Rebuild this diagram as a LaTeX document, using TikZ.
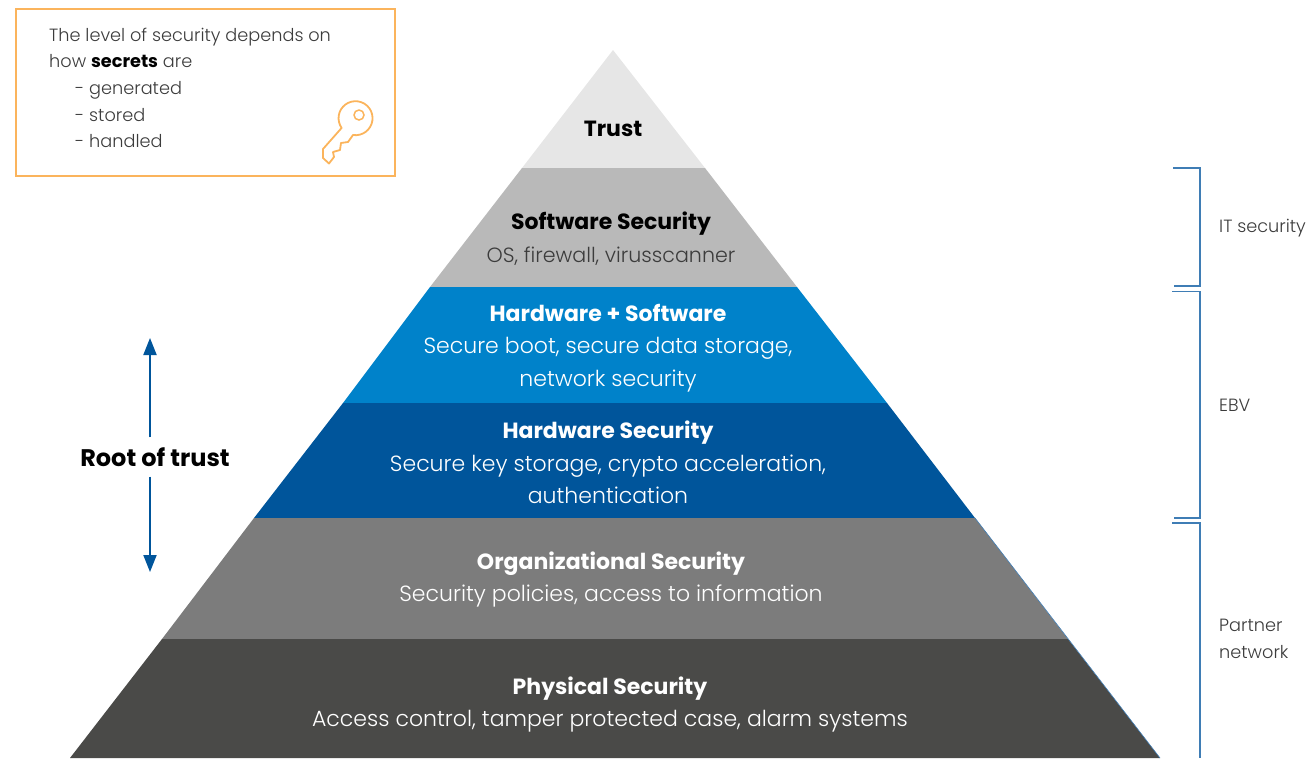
\documentclass[tikz,border=0pt]{standalone}
\usepackage{fontspec}
\setmainfont{Poppins}
\newfontfamily\lightfont{Poppins Light}
\usepackage{tikz}
\usetikzlibrary{arrows.meta}

\definecolor{trustgray}{HTML}{E6E6E6}
\definecolor{softgray}{HTML}{B9B9B9}
\definecolor{hwswblue}{HTML}{0082CA}
\definecolor{hwblue}{HTML}{00559B}
\definecolor{orggray}{HTML}{7C7C7C}
\definecolor{physgray}{HTML}{4A4A48}
\definecolor{keyorange}{HTML}{FBB45C}
\definecolor{bracketblue}{HTML}{3F7DB5}
\definecolor{notetext}{HTML}{3C3C3C}

\newcommand{\headtext}[1]{{\normalfont\bfseries #1}}

\tikzset{
  levellabel/.style={align=center, inner sep=0pt, font=\fontsize{22}{32.5}\selectfont\lightfont},
  sidelabel/.style={anchor=west, align=left, inner sep=0pt, text=notetext, font=\fontsize{17.7}{26.7}\selectfont\lightfont},
  bracket/.style={draw=bracketblue, line width=1.5pt},
  rootarrow/.style={draw=hwblue, line width=2pt, -{Stealth[length=17pt,width=13pt,inset=0pt]}}
}

\begin{document}
\begin{tikzpicture}[x=1pt,y=-1pt]
\useasboundingbox (0,0) rectangle (1309,758);

% pyramid
\fill[trustgray] (613,50)--(705,168)--(522,168)--cycle;
\fill[softgray] (522,168)--(705,168)--(797,287)--(430,287)--cycle;
\fill[hwswblue] (430,287)--(797,287)--(887,403)--(343,403)--cycle;
\fill[hwblue] (343,403)--(887,403)--(975,518)--(254,518)--cycle;
\fill[orggray] (254,518)--(975,518)--(1068,639)--(162,639)--cycle;
\fill[physgray] (162,639)--(1068,639)--(1160,758)--(70,758)--cycle;
\draw[draw=bracketblue, line width=0.6pt] (975,518)--(1160,758);

\node[levellabel, text=black] (trust) at (613,129) {\headtext{Trust}};
\node[levellabel, text=black] (software) at (611,238.5) {\headtext{Software Security}\\{\fontsize{20.6}{32.5}\selectfont\color{notetext}OS, firewall, virusscanner}};
\node[levellabel, text=white] (hwsw) at (608,348) {\headtext{Hardware + Software}\\Secure boot, secure data storage,\\network security};
\node[levellabel, text=white] (hardware) at (608,462.5) {\headtext{Hardware Security}\\Secure key storage, crypto acceleration,\\authentication};
\node[levellabel, text=white] (organization) at (611,579.5) {\headtext{Organizational Security}\\Security policies, access to information};
\node[levellabel, text=white] (physical) at (610,704.5) {\headtext{Physical Security}\\Access control, tamper protected case, alarm systems};

% note with key
\draw[draw=keyorange, line width=2pt] (16,9) rectangle (395,176);
\node[sidelabel, anchor=north west] (note) at (49,27.5)
  {The level of security depends on\\how {\normalfont\bfseries\color{black}secrets} are\\\hspace*{26pt}- generated\\\hspace*{26pt}- stored\\\hspace*{26pt}- handled};
\draw[draw=keyorange, line width=1.8pt, line join=round] (353,135) arc[start angle=98.6, end angle=-215, radius=17]
  --(323,149)--(323,158)--(329,163.5)--(334,157)--(333,152)--(340,150)--(341,143)--(348,142)--cycle;
\draw[draw=keyorange, line width=1.5pt] (359,115) circle (5);

% root of trust
\node[inner sep=0pt, minimum height=39pt, text=black, font=\fontsize{24}{28}\selectfont\bfseries] (roottrust) at (155,457) {Root of trust};
\coordinate (uptip) at (150,338);
\coordinate (downtip) at (150,572);
\draw[rootarrow] (roottrust.north -| uptip) -- (uptip);
\draw[rootarrow] (roottrust.south -| downtip) -- (downtip);

% brackets on the right
\coordinate (itstart) at (1173,168);
\coordinate (itend) at (1174,286);
\coordinate (ebvstart) at (1172,291.5);
\coordinate (ebvend) at (1174,518);
\coordinate (partnerstart) at (1172,523);
\coordinate (partnerend) at (1200,758);
\draw[bracket] (itstart) -- (1200,168) -- (1200,286) -- (itend);
\draw[bracket] (ebvstart) -- (1200,291.5) -- (1200,518) -- (ebvend);
\draw[bracket] (partnerstart) -- (1200,523) -- (partnerend);

\node[sidelabel] (itsecurity) at (1219,228) {IT security};
\node[sidelabel] (ebv) at (1219,405) {EBV};
\node[sidelabel] (partner) at (1219,639) {Partner\\network};
\end{tikzpicture}
\end{document}
